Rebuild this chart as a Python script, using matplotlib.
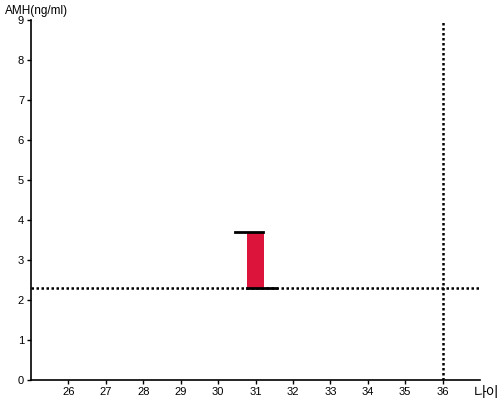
import matplotlib
matplotlib.use("Agg")
import matplotlib.pyplot as plt

plt.rcParams['font.family'] = ['Liberation Sans', 'Noto Sans CJK KR', 'DejaVu Sans']

# data
age = [31]
amh_low = [2.3]
amh_high = [3.7]
ref_amh = 2.3
ref_age = 36
x_ticks = [26, 27, 28, 29, 30, 31, 32, 33, 34, 35, 36]
y_ticks = [0, 1, 2, 3, 4, 5, 6, 7, 8, 9]

fig = plt.figure(figsize=(5, 4), dpi=100)
ax = fig.add_axes([0.062, 0.05, 0.898, 0.90])

w = 0.43
for a, lo, hi in zip(age, amh_low, amh_high):
    ax.bar(a, hi - lo, bottom=lo, width=w, color='#dc143c', zorder=2)
    # caps: top one to the left, bottom one to the right
    ax.plot([a - 0.55, a + w / 2 - 0.02], [hi, hi], color='black', lw=2, zorder=3)
    ax.plot([a - w / 2, a + 0.55], [lo, lo], color='black', lw=2, zorder=3)

ax.axhline(ref_amh, color='black', lw=1.8, linestyle=(0, (1, 1)), zorder=1)
ax.axvline(ref_age, color='black', lw=1.8, linestyle=(0, (1, 1)), zorder=1)

ax.set_xlim(25, 37)
ax.set_ylim(0, 9)
ax.set_xticks(x_ticks)
ax.set_yticks(y_ticks)
ax.tick_params(labelsize=8, length=3, width=1, pad=2)
for s in ['top', 'right']:
    ax.spines[s].set_visible(False)
for s in ['left', 'bottom']:
    ax.spines[s].set_linewidth(1.2)

fig.text(0.01, 0.972, 'AMH(ng/ml)', fontsize=8.5, va='center', ha='left')
fig.text(0.948, 0.018, '나이', fontsize=10, va='center', ha='left',
         family=['Noto Sans CJK KR', 'DejaVu Sans'])

fig.savefig('out.png', dpi=100)
